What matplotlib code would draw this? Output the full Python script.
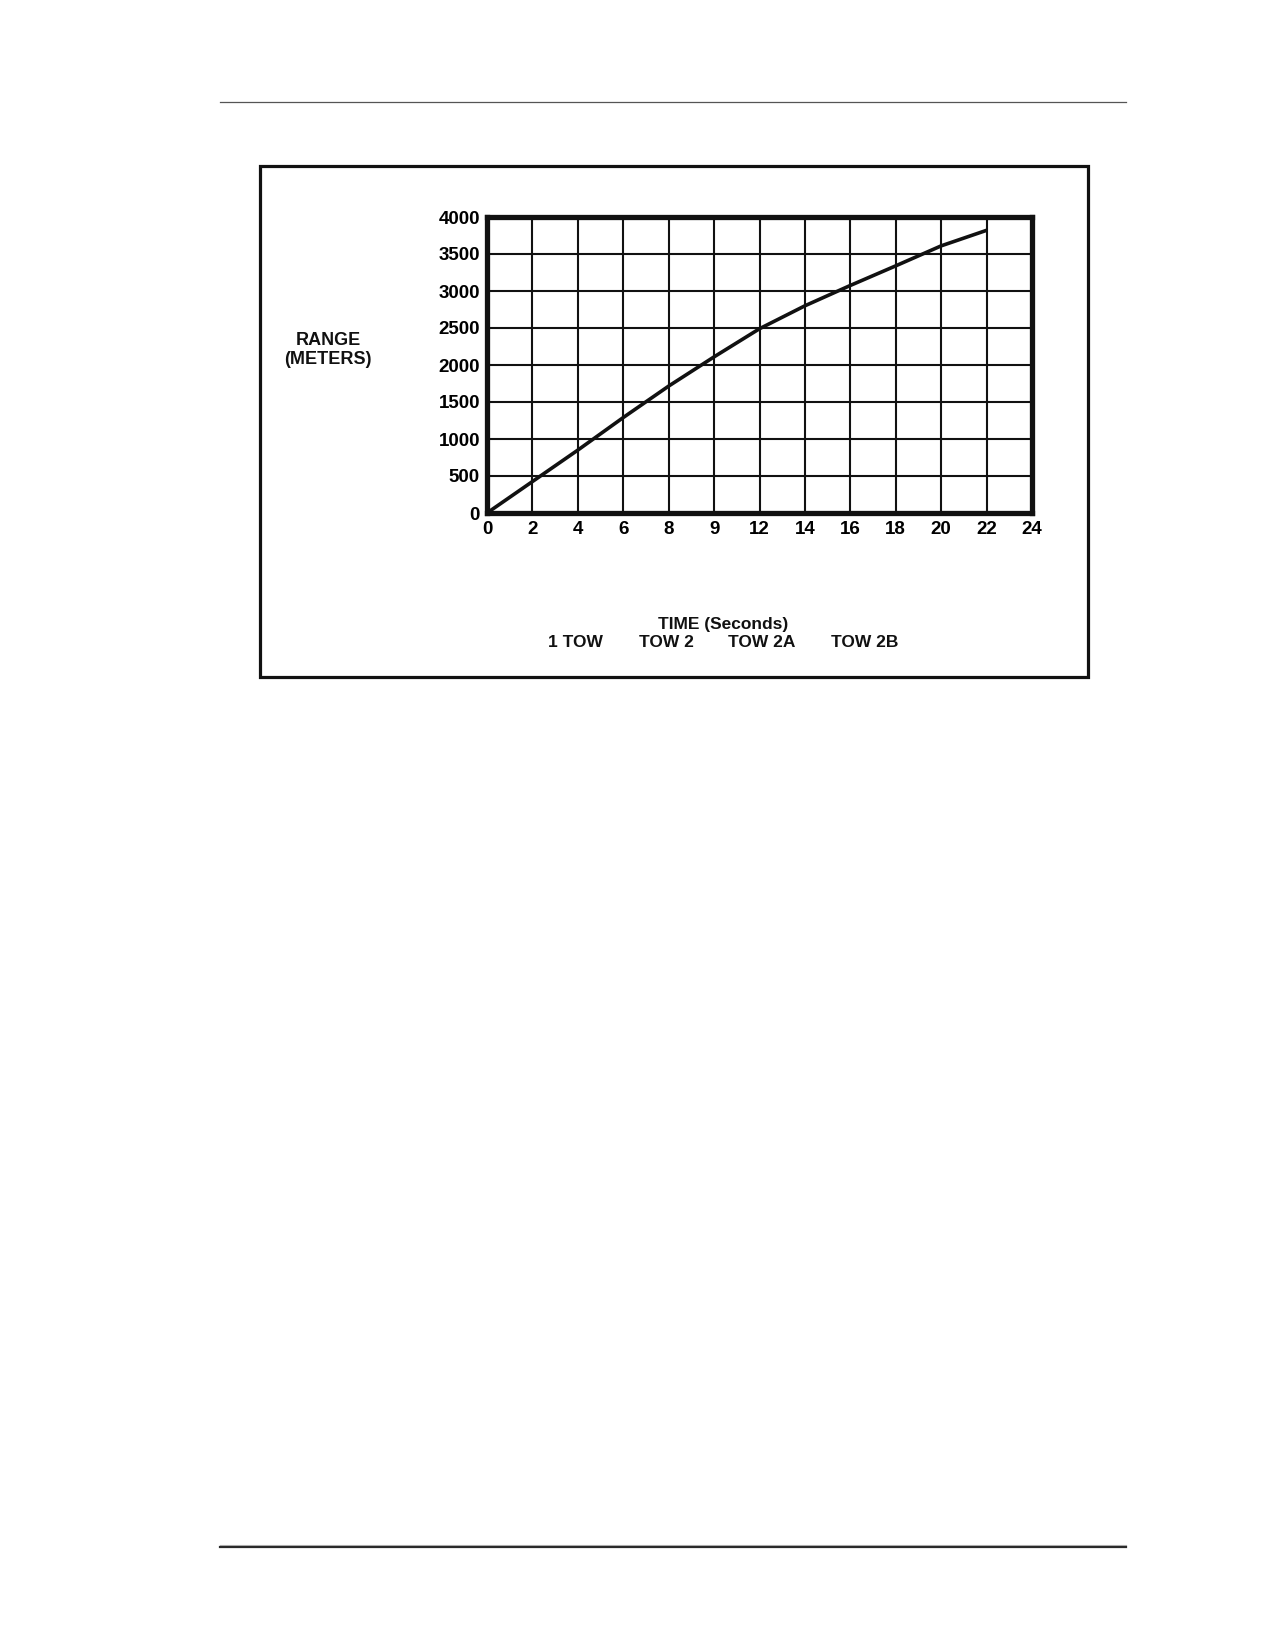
"""TOW missile range vs. time of flight chart."""

import matplotlib

matplotlib.use("Agg")

import matplotlib.pyplot as plt
import numpy as np
from matplotlib.lines import Line2D
from matplotlib.patches import Rectangle

# x axis: 12 equal grid cells, labels as printed
time_labels = ["0", "2", "4", "6", "8", "9", "12", "14", "16", "18", "20", "22", "24"]
range_ticks = [0, 500, 1000, 1500, 2000, 2500, 3000, 3500, 4000]
# range (m) read at each labelled grid line, 0 .. 22
range_m = [0, 425, 850, 1290, 1715, 2110, 2490, 2800, 3075, 3340, 3610, 3820]
missiles = ["1 TOW", "TOW 2", "TOW 2A", "TOW 2B"]

W, H = 1275, 1650
plt.rcParams["font.family"] = ["Liberation Sans", "DejaVu Sans"]
plt.rcParams["font.weight"] = "bold"

fig = plt.figure(figsize=(W / 100, H / 100), dpi=100)


def fx(px):
    return px / W


def fy(py):
    return 1 - py / H


# page rules
fig.add_artist(Line2D([fx(220), fx(1126)], [fy(102), fy(102)], color="#555555", lw=0.9))
fig.add_artist(Line2D([fx(220), fx(1126)], [fy(1545), fy(1545)], color="#bbbbbb", lw=0.8))
fig.add_artist(Line2D([fx(220), fx(1126)], [fy(1547), fy(1547)], color="#2a2a2a", lw=1.6))

# outer figure frame
fig.add_artist(Rectangle((fx(260), fy(677)), fx(1088) - fx(260), fy(166) - fy(677),
                         fill=False, edgecolor="#111111", lw=2.3))

ax = fig.add_axes([fx(487), fy(513), fx(1032) - fx(487), fy(217) - fy(513)])
x = np.arange(len(range_m))
ax.plot(x, range_m, color="#111111", lw=2.6, solid_capstyle="butt")

ax.set_xlim(0, len(time_labels) - 1)
ax.set_ylim(range_ticks[0], range_ticks[-1])
ax.set_xticks(np.arange(len(time_labels)))
ax.set_xticklabels(time_labels)
ax.set_yticks(range_ticks)
ax.set_yticklabels([str(v) for v in range_ticks])
ax.tick_params(length=0, labelsize=13.5)
ax.tick_params(axis="x", pad=6)
ax.tick_params(axis="y", pad=5)
ax.grid(True, color="#111111", lw=1.5)
for spine in ax.spines.values():
    spine.set_linewidth(3.8)
    spine.set_color("#111111")

fig.text(fx(328), fy(350), "RANGE\n(METERS)", ha="center", va="center",
         fontsize=13, linespacing=1.15, color="#111111")
fig.text(fx(723), fy(625), "TIME (Seconds)", ha="center", va="center",
         fontsize=12.5, color="#111111")
for label, px in zip(missiles, [575, 666, 762, 865]):
    fig.text(fx(px), fy(643), label, ha="center", va="center", fontsize=12.5, color="#111111")

fig.savefig("out.png", dpi=100, facecolor="white")
plt.close(fig)
